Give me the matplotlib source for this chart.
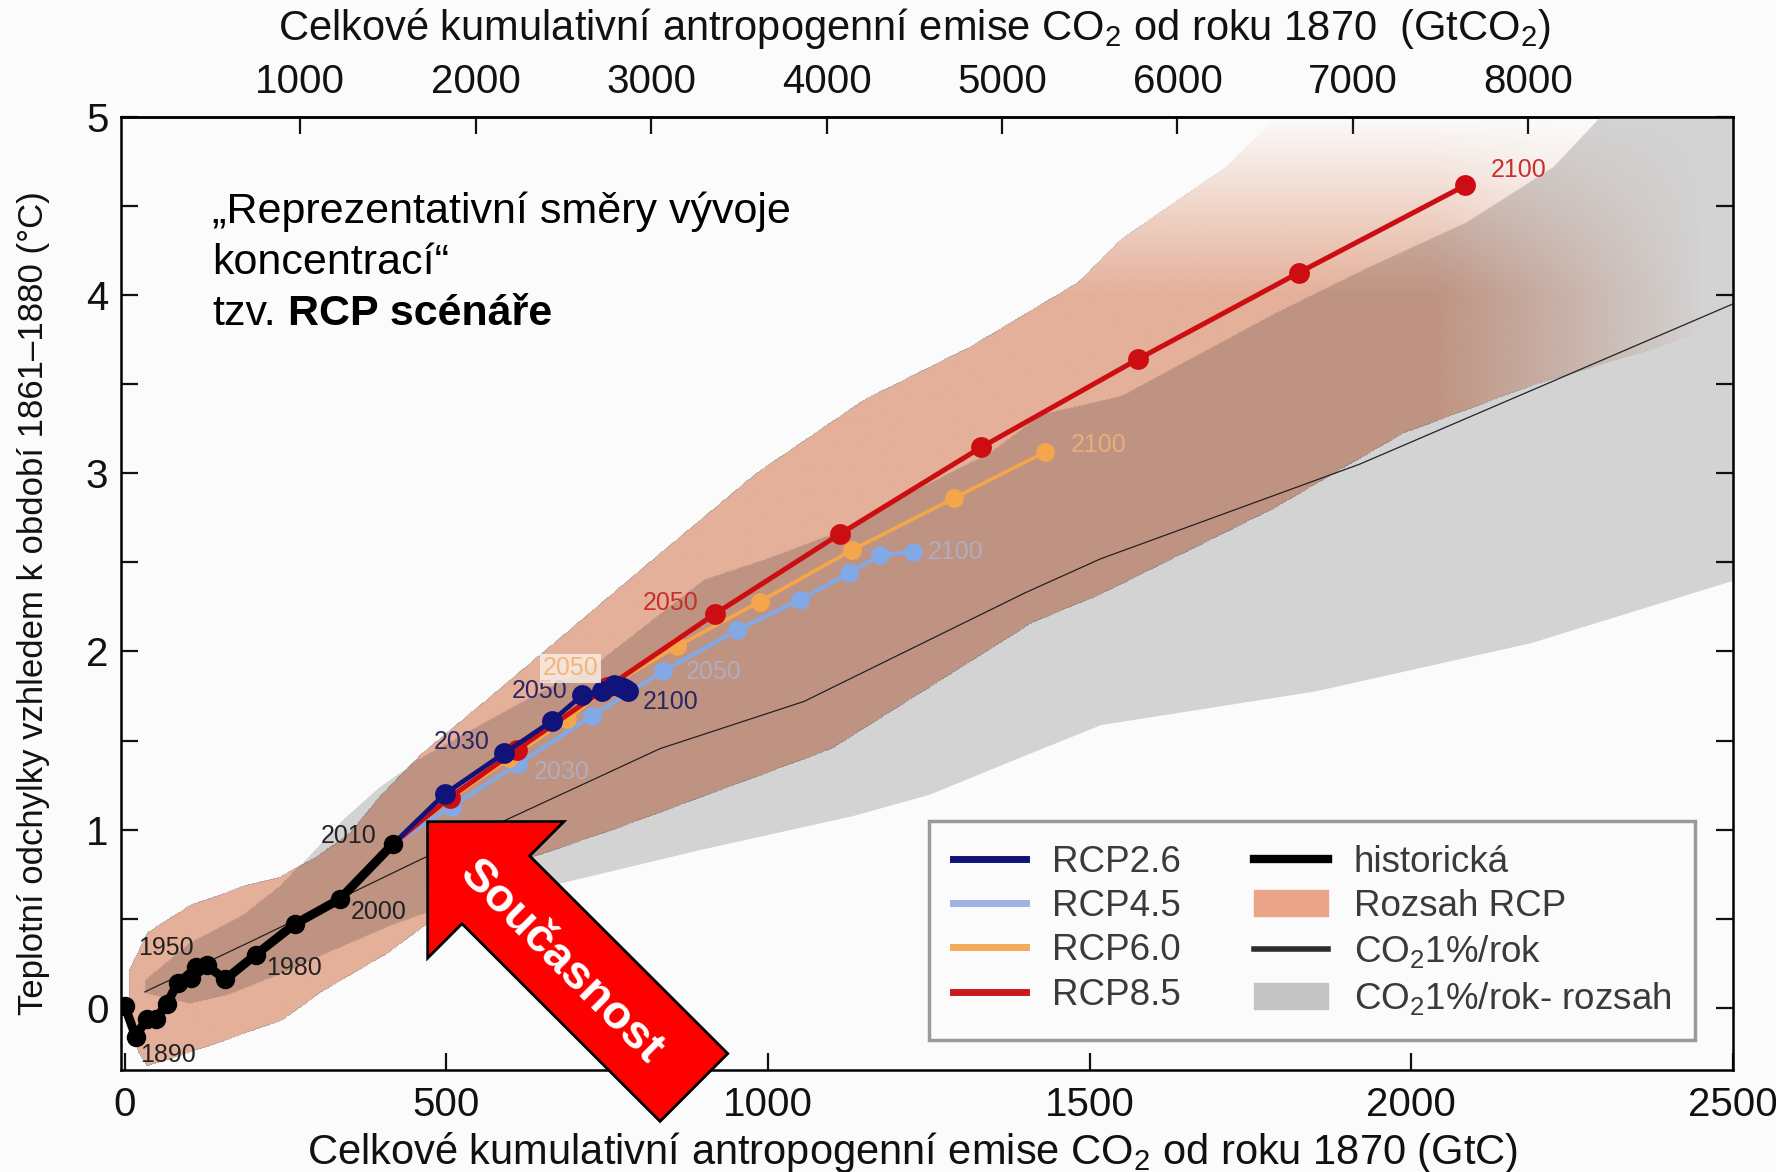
import numpy as np
import matplotlib
matplotlib.use("Agg")
import matplotlib.pyplot as plt
from matplotlib.lines import Line2D
from matplotlib.patches import Patch, FancyArrow

plt.rcParams['font.family'] = ['Liberation Sans', 'DejaVu Sans']
plt.rcParams['mathtext.fontset'] = 'custom'
plt.rcParams['mathtext.rm'] = 'Liberation Sans'
plt.rcParams['mathtext.it'] = 'Liberation Sans:italic'
plt.rcParams['mathtext.bf'] = 'Liberation Sans:bold'

# cumulative CO2 emissions since 1870 (GtC) vs. temperature anomaly (degC)
HIST_X = [0, 17, 34, 48, 65, 82, 103, 111, 127, 156, 204, 264, 334, 417]
HIST_Y = [0.01, -0.16, -0.06, -0.06, 0.02, 0.14, 0.17, 0.23, 0.24, 0.16, 0.30, 0.47, 0.61, 0.92]
HIST_YEARS = [1880, 1890, 1900, 1910, 1920, 1930, 1940, 1950, 1960, 1970, 1980, 1990, 2000, 2010]

RCP_YEARS = [2020, 2030, 2040, 2050, 2060, 2070, 2080, 2090, 2100]
RCP26_X = [497, 590, 664, 711, 742, 761, 772, 778, 782]
RCP26_Y = [1.20, 1.43, 1.61, 1.755, 1.78, 1.81, 1.80, 1.79, 1.78]
RCP45_X = [508, 612, 727, 837, 952, 1049, 1126, 1174, 1226]
RCP45_Y = [1.13, 1.37, 1.64, 1.89, 2.12, 2.29, 2.44, 2.54, 2.56]
RCP60_X = [505, 598, 688, 760, 859, 987, 1131, 1289, 1431]
RCP60_Y = [1.17, 1.40, 1.62, 1.82, 2.03, 2.28, 2.57, 2.86, 3.12]
RCP85_X = [505, 610, 750, 917, 1112, 1331, 1575, 1825, 2084]
RCP85_Y = [1.18, 1.45, 1.80, 2.21, 2.66, 3.145, 3.64, 4.125, 4.615]

# 1 % per year CO2 increase experiment
ONEPCT_X = [31, 200, 461, 832, 1056, 1400, 1517, 1919, 2500]
ONEPCT_Y = [0.09, 0.38, 0.835, 1.455, 1.72, 2.33, 2.52, 3.05, 3.95]

# RCP range
RCP_HI_X = [5, 35, 100, 185, 240, 300, 350, 395, 460, 570, 685, 816, 982, 1149, 1315, 1482, 1548, 1713, 1797, 2450]
RCP_HI_Y = [0.20, 0.42, 0.57, 0.68, 0.73, 0.85, 0.98, 1.18, 1.42, 1.75, 2.10, 2.50, 3.00, 3.41, 3.71, 4.07, 4.31, 4.72, 5.02, 6.40]
RCP_LO_X = [5, 20, 34, 128, 245, 306, 406, 500, 628, 776, 1097, 1410, 1517, 1785, 1985, 2186, 2387, 2450]
RCP_LO_Y = [-0.05, -0.25, -0.33, -0.22, -0.07, 0.09, 0.30, 0.55, 0.835, 1.02, 1.45, 2.16, 2.32, 2.80, 3.22, 3.49, 3.71, 3.80]

# 1 % per year range
ONEPCT_HI_X = [30, 100, 184, 240, 272, 339, 395, 450, 600, 740, 900, 1000, 1110, 1200, 1343, 1426, 1548, 1785, 1919, 2086, 2220, 2293, 2500]
ONEPCT_HI_Y = [0.15, 0.36, 0.52, 0.68, 0.80, 1.06, 1.24, 1.38, 1.68, 1.95, 2.40, 2.52, 2.67, 2.85, 3.11, 3.33, 3.43, 3.89, 4.13, 4.41, 4.72, 5.00, 5.50]
ONEPCT_LO_X = [30, 100, 160, 250, 330, 420, 500, 675, 895, 1132, 1251, 1400, 1517, 1852, 2186, 2500]
ONEPCT_LO_Y = [0.08, 0.02, 0.07, 0.20, 0.33, 0.47, 0.57, 0.70, 0.89, 1.08, 1.20, 1.42, 1.59, 1.78, 2.05, 2.40]

X_TICKS = [0, 500, 1000, 1500, 2000, 2500]
GTCO2_TICKS = [1000, 2000, 3000, 4000, 5000, 6000, 7000, 8000, 9000]
GTCO2_LABELS = ['1000', '2000', '3000', '4000', '5000', '6000', '7000', '8000', '']
Y_TICKS = [0, 0.5, 1, 1.5, 2, 2.5, 3, 3.5, 4, 4.5, 5]
Y_LABELS = ['0', '', '1', '', '2', '', '3', '', '4', '', '5']

C_NAVY = '#12137a'
C_LBLUE = '#82a8e6'
C_ORANGE = '#f5a64a'
C_RED = '#cc0d12'
C_SALMON = np.array([229, 176, 153]) / 255.
C_BROWN = np.array([191, 147, 129]) / 255.
C_GREY = '#d3d3d3'
BG = '#fbfbfb'

XMIN, XMAX, YMIN, YMAX = -6, 2500, -0.35, 5.0

fig = plt.figure(figsize=(17.76, 11.72), dpi=100, facecolor=BG)
ax = fig.add_axes([0.0681, 0.0867, 0.9077, 0.8137], facecolor=BG)

# grey range (1 % per year)
xg = np.linspace(ONEPCT_LO_X[0], ONEPCT_LO_X[-1], 800)
ax.fill_between(xg, np.interp(xg, ONEPCT_LO_X, ONEPCT_LO_Y),
                np.interp(xg, ONEPCT_HI_X, ONEPCT_HI_Y),
                color=C_GREY, lw=0, zorder=1)

# RCP range, brown where it overlaps the grey range, fading at the far end
nx, ny = 1400, 900
gx = np.linspace(XMIN, XMAX, nx)
gy = np.linspace(YMIN, YMAX, ny)
GX, GY = np.meshgrid(gx, gy)
s_lo = np.interp(gx, RCP_LO_X, RCP_LO_Y, left=np.nan, right=np.nan)
s_hi = np.interp(gx, RCP_HI_X, RCP_HI_Y, left=np.nan, right=np.nan)
g_lo = np.interp(gx, ONEPCT_LO_X, ONEPCT_LO_Y, left=np.nan, right=np.nan)
g_hi = np.interp(gx, ONEPCT_HI_X, ONEPCT_HI_Y, left=np.nan, right=np.nan)
in_s = (GY >= s_lo) & (GY <= s_hi)
in_g = (GY >= g_lo) & (GY <= g_hi)
fade = np.clip((2455 - GX) / 420, 0, 1) * np.clip((5.0 - GY) / 1.0, 0, 1)
rgba = np.zeros((ny, nx, 4))
rgba[in_s & ~in_g, :3] = C_SALMON
rgba[in_s & in_g, :3] = C_BROWN
rgba[..., 3] = in_s * fade
ax.imshow(rgba, extent=(XMIN, XMAX, YMIN, YMAX), origin='lower', aspect='auto',
          interpolation='bilinear', zorder=2)

ax.plot(ONEPCT_X, ONEPCT_Y, color='#222222', lw=0.9, zorder=3)

# scenarios, each starting from the last historical point
scen = [
    (RCP45_X, RCP45_Y, C_LBLUE, 3.0, 13.5, 4),
    (RCP60_X, RCP60_Y, C_ORANGE, 2.6, 13.5, 5),
    (RCP85_X, RCP85_Y, C_RED, 3.6, 15, 6),
    (RCP26_X, RCP26_Y, C_NAVY, 3.4, 15, 7),
]
for sx, sy, col, lw, ms, z in scen:
    ax.plot([HIST_X[-1]] + sx, [HIST_Y[-1]] + sy, color=col, lw=lw, zorder=z)
    ax.plot(sx, sy, 'o', color=col, ms=ms, mec='none', zorder=z)

ax.plot(HIST_X, HIST_Y, color='black', lw=6.5, zorder=8)
ax.plot(HIST_X, HIST_Y, 'o', color='black', ms=14, mec='none', zorder=8)


def year_label(xs, ys, years, year, dx, dy, color, **kw):
    i = years.index(year)
    ax.annotate(str(year), (xs[i], ys[i]), xytext=(dx, dy), textcoords='offset points',
                ha='center', va='center', fontsize=18, color=color, zorder=9, **kw)


year_label(HIST_X, HIST_Y, HIST_YEARS, 1890, 23, -13, '#222222')
year_label(HIST_X, HIST_Y, HIST_YEARS, 1950, -22, 14, '#222222')
year_label(HIST_X, HIST_Y, HIST_YEARS, 1980, 27, -10, '#222222')
year_label(HIST_X, HIST_Y, HIST_YEARS, 2000, 28, -9, '#222222')
year_label(HIST_X, HIST_Y, HIST_YEARS, 2010, -32, 6, '#222222')
year_label(RCP26_X, RCP26_Y, RCP_YEARS, 2030, -31, 8, '#2b2566')
year_label(RCP26_X, RCP26_Y, RCP_YEARS, 2050, -31, 3, '#2b2566')
year_label(RCP26_X, RCP26_Y, RCP_YEARS, 2100, 31, -8, '#2b2566')
year_label(RCP45_X, RCP45_Y, RCP_YEARS, 2030, 31, -6, '#a9bde6', alpha=0.6)
year_label(RCP45_X, RCP45_Y, RCP_YEARS, 2050, 36, -1, '#a9bde6', alpha=0.6)
year_label(RCP45_X, RCP45_Y, RCP_YEARS, 2100, 30, 0, '#a9bde6', alpha=0.6)
year_label(RCP60_X, RCP60_Y, RCP_YEARS, 2050, -31, 11, '#f2b679',
           bbox=dict(boxstyle='square,pad=0.1', fc='#f9ece4', ec='none', alpha=0.85))
year_label(RCP60_X, RCP60_Y, RCP_YEARS, 2100, 38, 5, '#f2b679', alpha=0.8)
year_label(RCP85_X, RCP85_Y, RCP_YEARS, 2050, -32, 8, '#c8302e')
year_label(RCP85_X, RCP85_Y, RCP_YEARS, 2100, 38, 11, '#c8302e')

ax.set_xlim(XMIN, XMAX)
ax.set_ylim(YMIN, YMAX)
ax.set_xticks(X_TICKS)
ax.set_yticks(Y_TICKS)
ax.set_yticklabels(Y_LABELS)
ax.tick_params(axis='both', direction='in', length=12, width=1.6, labelsize=29,
               colors='#111111', right=True)
ax.tick_params(axis='x', pad=11)
ax.tick_params(axis='y', pad=9)
for sp in ax.spines.values():
    sp.set_linewidth(1.8)

sec = ax.secondary_xaxis('top', functions=(lambda v: v * 44 / 12, lambda v: v * 12 / 44))
sec.set_xticks(GTCO2_TICKS)
sec.set_xticklabels(GTCO2_LABELS)
sec.tick_params(direction='in', length=12, width=1.6, labelsize=29, pad=11, colors='#111111')
sec.spines['top'].set_linewidth(1.8)

fig.text(0.515, 0.976, 'Celkové kumulativní antropogenní emise CO$_2$ od roku 1870  (GtCO$_2$)',
         ha='center', va='center', fontsize=30, color='#111111')
fig.text(0.514, 0.0165, 'Celkové kumulativní antropogenní emise CO$_2$ od roku 1870 (GtC)',
         ha='center', va='center', fontsize=30, color='#111111')
fig.text(0.019, 0.4855, 'Teplotní odchylky vzhledem k období 1861–1880 (°C)',
         ha='center', va='center', rotation=90, fontsize=25, color='#111111')

# title box text in the upper left
ax.text(0.0565, 0.900, '„Reprezentativní směry vývoje', transform=ax.transAxes,
        fontsize=31, ha='left', va='center', zorder=10)
ax.text(0.0565, 0.8466, 'koncentrací“', transform=ax.transAxes,
        fontsize=31, ha='left', va='center', zorder=10)
t3 = ax.text(0.0565, 0.793, 'tzv.', transform=ax.transAxes,
             fontsize=31, ha='left', va='center', zorder=10)
ax.annotate('RCP scénáře', xy=(1, 0), xycoords=t3, xytext=(9, 0), textcoords='offset points',
            ha='left', va='bottom', fontsize=31, fontweight='bold', zorder=10)

handles = [
    Line2D([], [], color=C_NAVY, lw=5),
    Line2D([], [], color='#9db4e2', lw=5),
    Line2D([], [], color='#f3aa5a', lw=5),
    Line2D([], [], color='#cc1a1a', lw=5),
    Line2D([], [], color='black', lw=6),
    Patch(color='#eaa487'),
    Line2D([], [], color='#2b2b2b', lw=4),
    Patch(color='#c4c4c4'),
]
labels = ['RCP2.6', 'RCP4.5', 'RCP6.0', 'RCP8.5', 'historická', 'Rozsah RCP',
          'CO$_2$1%/rok', 'CO$_2$1%/rok- rozsah']
leg = ax.legend(handles, labels, ncol=2, loc='upper left', bbox_to_anchor=(0.501, 0.2615),
                borderaxespad=0, fontsize=26.5, handlelength=2.0, handletextpad=0.7,
                columnspacing=2.0, labelspacing=0.25, borderpad=0.65, fancybox=False,
                framealpha=1, facecolor=BG, edgecolor='#9a9a9a', labelcolor='#3a3a3a')
leg.get_frame().set_linewidth(2.5)
leg.set_zorder(12)

# "present" arrow drawn over the whole figure (inches)
arrow = FancyArrow(6.939, 0.845, -2.663, 2.658, width=0.958, head_width=1.929,
                   head_length=0.964, length_includes_head=True,
                   transform=fig.dpi_scale_trans, facecolor='#ff0000',
                   edgecolor='black', linewidth=2, zorder=20)
fig.add_artist(arrow)
fig.text(0.3159, 0.1792, 'Současnost', rotation=-45, rotation_mode='anchor',
         ha='center', va='center', fontsize=34, fontweight='bold', color='white', zorder=21)

fig.savefig('out.png', dpi=100, facecolor=BG)
